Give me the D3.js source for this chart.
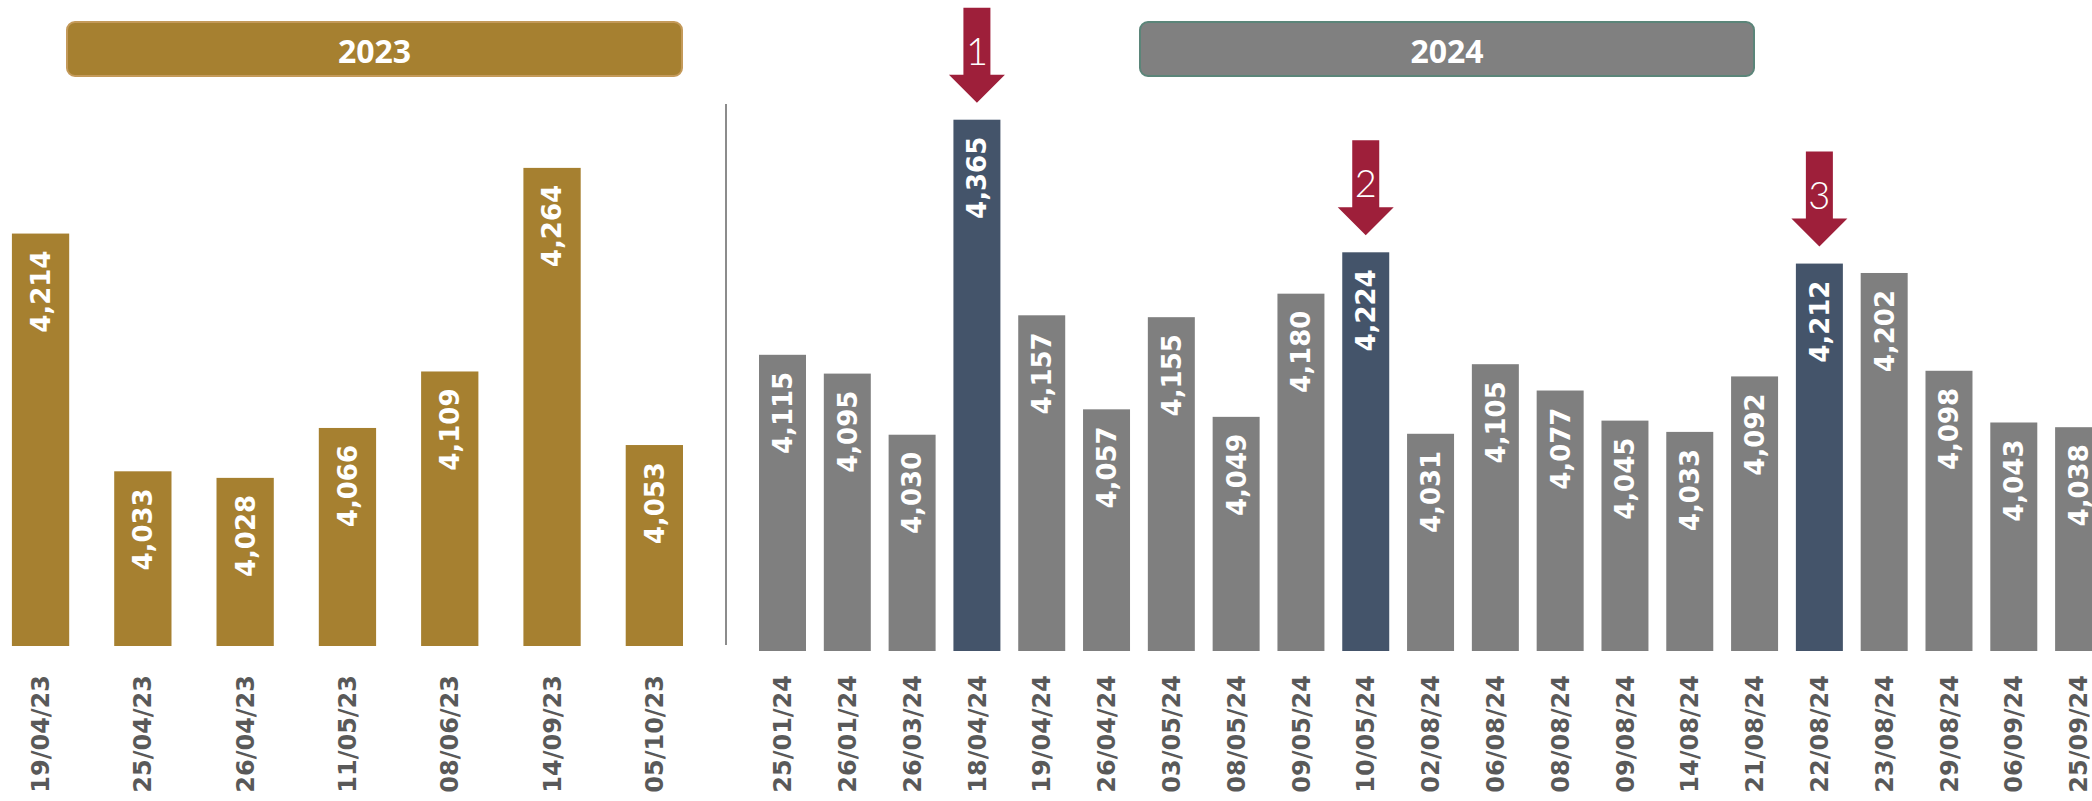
<!DOCTYPE html>
<html>
<head>
<meta charset="utf-8">
<script src="https://cdnjs.cloudflare.com/ajax/libs/d3/7.8.5/d3.min.js"></script>
<style>
  body { margin: 0; background: #fff; overflow: hidden; }
  .val { fill: #fff; font-family: "DejaVu Sans", Verdana, sans-serif; font-weight: bold; font-size: 26px; }
  .axis text { fill: #595959; font-family: "DejaVu Sans", Verdana, sans-serif; font-weight: bold; font-size: 24px; }
  .head { fill: #fff; font-family: "Open Sans", sans-serif; font-weight: 700; font-size: 32px; }
  .num { fill: #fff; font-family: "Lato", "Open Sans", sans-serif; font-weight: 300; font-size: 38px; }
</style>
</head>
<body>
<div id="chart"></div>
<script>
// data
const dates23 = ['19/04/23', '25/04/23', '26/04/23', '11/05/23', '08/06/23', '14/09/23', '05/10/23']
const values23 = [4214, 4033, 4028, 4066, 4109, 4264, 4053]

const dates24 = ['25/01/24', '26/01/24', '26/03/24', '18/04/24', '19/04/24', '26/04/24', '03/05/24',
  '08/05/24', '09/05/24', '10/05/24', '02/08/24', '06/08/24', '08/08/24', '09/08/24', '14/08/24',
  '21/08/24', '22/08/24', '23/08/24', '29/08/24', '06/09/24', '25/09/24']
const values24 = [4115, 4095, 4030, 4365, 4157, 4057, 4155, 4049, 4180, 4224, 4031,
  4105, 4077, 4045, 4033, 4092, 4212, 4202, 4098, 4043, 4038]

// highlighted bars with their arrow number
const markDates = ['18/04/24', '10/05/24', '22/08/24']
const markLabels = ['1', '2', '3']

const yearLabels = ['2023', '2024']

// canvas
const width = 2092,
      height = 801,
      labelTop = 675

const gold = '#A68030',
      gray = '#7F7F7F',
      navy = '#44546A',
      red = '#9E1F3A'

let svg = d3.select('#chart')
  .append('svg')
  .attr('width', width)
  .attr('height', height)

// scales (each year has its own value axis)
let x23 = d3.scaleBand().domain(dates23).range([-10.6, 705.5]).paddingInner(0.44).paddingOuter(0.22)
let y23 = d3.scaleLinear().domain([3900, 4300]).range([646, 120.6])

let x24 = d3.scaleBand().domain(dates24).range([750.1, 2111]).paddingInner(0.275).paddingOuter(0.1375)
let y24 = d3.scaleLinear().domain([3800, 4400]).range([651, 86.8])

let panel = (dates, values, x, y, colorOf) => {
  let g = svg.append('g')
  let rows = dates.map((d, i) => ({ date: d, value: values[i] }))

  g.selectAll('rect')
    .data(rows)
    .enter()
    .append('rect')
    .attr('x', d => x(d.date))
    .attr('y', d => y(d.value))
    .attr('width', x.bandwidth())
    .attr('height', d => y.range()[0] - y(d.value))
    .attr('fill', d => colorOf(d.date))

  g.selectAll('text.val')
    .data(rows)
    .enter()
    .append('text')
    .attr('class', 'val')
    .attr('transform', d => `translate(${ x(d.date) + x.bandwidth() / 2 }, ${ y(d.value) + 17 }) rotate(-90)`)
    .attr('text-anchor', 'end')
    .attr('dy', '0.36em')
    .text(d => d3.format(',')(d.value))

  g.append('g')
    .attr('class', 'axis')
    .attr('transform', `translate(0, ${ labelTop })`)
    .call(d3.axisBottom(x).tickSize(0))
    .call(a => a.select('.domain').remove())
    .selectAll('text')
    .attr('transform', 'rotate(-90)')
    .attr('x', 0)
    .attr('y', 0)
    .attr('dy', '0.36em')
    .style('text-anchor', 'end')
}

panel(dates23, values23, x23, y23, () => gold)
panel(dates24, values24, x24, y24, d => markDates.includes(d) ? navy : gray)

// year header boxes
let heads = [
  { label: yearLabels[0], x0: 67, x1: 682, fill: gold, stroke: '#C49A5A' },
  { label: yearLabels[1], x0: 1140, x1: 1754, fill: '#808080', stroke: '#5B8579' }
]

heads.forEach(h => {
  svg.append('rect')
    .attr('x', h.x0)
    .attr('y', 22)
    .attr('width', h.x1 - h.x0)
    .attr('height', 54)
    .attr('rx', 8)
    .attr('fill', h.fill)
    .attr('stroke', h.stroke)
    .attr('stroke-width', 2)
  svg.append('text')
    .attr('class', 'head')
    .attr('x', (h.x0 + h.x1) / 2)
    .attr('y', 50)
    .attr('text-anchor', 'middle')
    .attr('dominant-baseline', 'central')
    .text(h.label)
})

// separator between the years
svg.append('line')
  .attr('x1', 726).attr('x2', 726)
  .attr('y1', 104).attr('y2', 645)
  .attr('stroke', '#8C8C8C')
  .attr('stroke-width', 2)

// arrows over the highlighted bars
markDates.forEach((d, i) => {
  let cx = x24(d) + x24.bandwidth() / 2
  let tip = y24(values24[dates24.indexOf(d)]) - 17
  let a = svg.append('g').attr('transform', `translate(${ cx }, ${ tip })`)
  a.append('path')
    .attr('d', 'M-13.5,-95 L13.5,-95 L13.5,-28 L28,-28 L0,0 L-28,-28 L-13.5,-28 Z')
    .attr('fill', red)
  a.append('text')
    .attr('class', 'num')
    .attr('y', -53)
    .attr('text-anchor', 'middle')
    .attr('dominant-baseline', 'central')
    .text(markLabels[i])
})
</script>
</body>
</html>
